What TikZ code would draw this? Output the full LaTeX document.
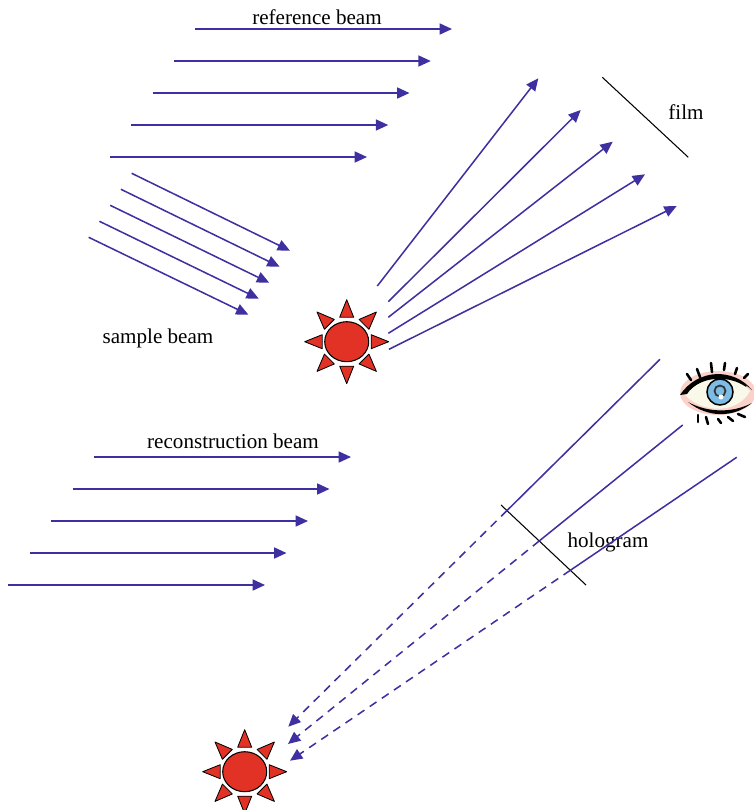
\documentclass[tikz,border=0pt]{standalone}
\usepackage{fontspec}
\setmainfont{Liberation Serif}
\usetikzlibrary{arrows.meta,shapes.geometric,calc}

\definecolor{beamblue}{RGB}{62,48,160}
\definecolor{sunred}{RGB}{226,50,38}
\definecolor{irisblue}{RGB}{125,188,228}
\definecolor{lidpink}{RGB}{250,210,202}
\definecolor{eyewhite}{RGB}{250,248,232}

\begin{document}
\begin{tikzpicture}[x=0.03cm,y=-0.03cm,
  beam/.style={draw=beamblue,line width=1.3pt,-{Triangle[length=3.7mm,width=3.3mm]}},
  ray/.style={draw=beamblue,line width=1.3pt},
  back/.style={beam,dashed,dash pattern=on 7pt off 5.5pt},
  plate/.style={draw=black,line width=0.9pt},
  lbl/.style={font=\fontsize{18}{20}\selectfont,anchor=base,inner sep=0pt},
  sunball/.style={ellipse,draw=black,fill=sunred,line width=0.9pt,minimum width=1.32cm,minimum height=1.2cm,inner sep=0pt},
  sunray/.style={draw=black,fill=sunred,line width=0.7pt,line join=round},
  lash/.style={line width=2.2pt,line cap=round}]
\useasboundingbox (0,0) rectangle (753,810);

% the two point sources
\node[sunball] (src) at (346.7,341.7) {};
\node[sunball] (img) at (244.7,771.7) {};
\foreach \s in {src,img}
  \foreach \a in {0,45,...,315}
    \draw[sunray,shift={(\s.center)},rotate=\a] (24.5,-7) -- (42,0) -- (24.5,7) -- cycle;

% reference beam
\foreach \i in {0,...,4}{
  \coordinate (ra\i) at ({195-21.25*\i},{29+32*\i});
  \coordinate (rb\i) at ({452-21.25*\i},{29+32*\i});
  \draw[beam] (ra\i) -- (rb\i);
}
\node[lbl] (reflbl) at (317,24.5) {reference beam};

% sample beam
\foreach \i in {0,...,4}{
  \coordinate (sa\i) at ({131.7-10.75*\i},{173.3+16*\i});
  \coordinate (sb\i) at ({290-10.4*\i},{250.7+16*\i});
  \draw[beam] (sa\i) -- (sb\i);
}
\node[lbl] (smplbl) at (158,343) {sample beam};

% scattered light towards the film
\foreach \n/\xa/\ya/\xb/\yb in {1/377.3/286/538.3/78.3,2/388.3/301.7/580.7/110,
    3/388.3/317.3/612.7/141.7,4/388.3/333.3/645/174.3,5/389/349.3/676.7/206}{
  \coordinate (oa\n) at (\xa,\ya);
  \coordinate (ob\n) at (\xb,\yb);
  \draw[beam] (oa\n) -- (ob\n);
}
\coordinate (fa) at (602.3,77.3);
\coordinate (fb) at (688.3,157.3);
\draw[plate] (fa) -- (fb);
\node[lbl] (filmlbl) at (686,119) {film};

% reconstruction beam
\foreach \i in {0,...,4}{
  \coordinate (ca\i) at ({94-21.5*\i},{457+32*\i});
  \coordinate (cb\i) at ({351-21.5*\i},{457+32*\i});
  \draw[beam] (ca\i) -- (cb\i);
}
\node[lbl] (reclbl) at (233,448) {reconstruction beam};

% hologram and the virtual image rays (\f = where a ray meets the plate)
\coordinate (ha) at (501,505);
\coordinate (hb) at (586,585);
\draw[plate] (ha) -- (hb);
\node[lbl] (hololbl) at (608,547) {hologram};
\foreach \n/\xt/\yt/\xd/\yd/\f in {1/660/359.3/288.3/726.7/0.4117,2/682.7/425/288/744/0.3635,
    3/736.7/457.3/290/760.7/0.3724}{
  \coordinate (t\n) at (\xt,\yt);
  \coordinate (d\n) at (\xd,\yd);
  \coordinate (x\n) at ($(t\n)!\f!(d\n)$);
  \draw[ray] (t\n) -- (x\n);
  \draw[back] (x\n) -- (d\n);
}

% viewer
\begin{scope}[shift={(718,392)}]
  \fill[lidpink] (0,1) ellipse [x radius=38,y radius=22];
  \fill[eyewhite] (-33,3) .. controls (-15,-20) and (15,-20) .. (32,-1)
    .. controls (20,22) and (-15,22) .. cycle;
  \filldraw[fill=irisblue,draw=black,line width=1.3pt] (2,0) circle [radius=13];
  \draw[black!80,line width=1.5pt] (2,-1) circle [radius=5.5];
  \fill[white] (3,5) circle [radius=2.5];
  \fill (-38,3) .. controls (-20,-24) and (16,-24) .. (34,-2)
    .. controls (16,-19) and (-18,-18) .. (-31,2) -- cycle;
  \draw[line width=1.2pt,line cap=round] (-28,-3) .. controls (-14,-17) and (12,-17) .. (28,-6);
  \fill (-30,10) .. controls (-10,26) and (15,26) .. (34,11)
    .. controls (15,21) and (-10,21) .. cycle;
  \foreach \xa/\ya/\xb/\yb in {-31/-18/-27/-12,-21/-23/-18/-15,-7/-29/-6/-20,7/-29/6/-22,
      19/-24/17/-18,30/-18/26/-14,-20/23/-20/30,-12/25/-10/32,0/27/3/31,10/25/15/29,20/22/27/25}
    \draw[lash] (\xa,\ya) -- (\xb,\yb);
\end{scope}
\end{tikzpicture}
\end{document}
